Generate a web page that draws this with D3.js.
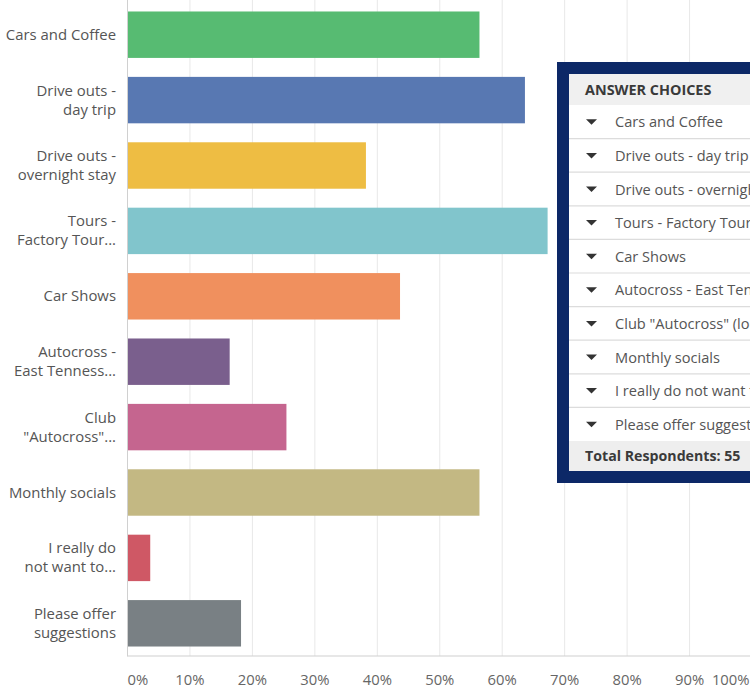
<!DOCTYPE html>
<html>
<head>
<meta charset="utf-8">
<script src="https://cdn.jsdelivr.net/npm/d3@7"></script>
<style>
  html, body { margin: 0; padding: 0; background: #fff; overflow: hidden; }
  svg { display: block; font-family: "Open Sans", "Noto Sans", sans-serif; }
</style>
</head>
<body>
<svg id="chart" width="750" height="689"></svg>
<script>
// ---- data ----
const categories = [
  "Cars and Coffee",
  "Drive outs - day trip",
  "Drive outs - overnight stay",
  "Tours - Factory Tours",
  "Car Shows",
  "Autocross - East Tennessee",
  "Club \"Autocross\"",
  "Monthly socials",
  "I really do not want to",
  "Please offer suggestions"
];
const axisLabels = [
  ["Cars and Coffee"],
  ["Drive outs -", "day trip"],
  ["Drive outs -", "overnight stay"],
  ["Tours -", "Factory Tour..."],
  ["Car Shows"],
  ["Autocross -", "East Tenness..."],
  ["Club", "\"Autocross\"..."],
  ["Monthly socials"],
  ["I really do", "not want to..."],
  ["Please offer", "suggestions"]
];
const legendLabels = [
  "Cars and Coffee",
  "Drive outs - day trip",
  "Drive outs - overnight stay",
  "Tours - Factory Tours",
  "Car Shows",
  "Autocross - East Tennessee",
  "Club \"Autocross\" (local)",
  "Monthly socials",
  "I really do not want to participate",
  "Please offer suggestions"
];
const values = [56.36, 63.64, 38.18, 67.27, 43.64, 16.36, 25.45, 56.36, 3.64, 18.18];
const colors = ["#57bb72", "#5878b2", "#eebd43", "#81c5cc", "#f0905e", "#7a5f8d", "#c5658f", "#c3b883", "#cf5865", "#798084"];
const ticks = [0, 10, 20, 30, 40, 50, 60, 70, 80, 90, 100];
const totalRespondents = 55;

// ---- layout ----
const svg = d3.select("#chart");
const x = d3.scaleLinear().domain([0, 100]).range([127.5, 752]);
const y = d3.scaleBand().domain(categories).range([2, 656]).paddingInner(0.29).paddingOuter(0.145);

// gridlines
svg.append("g").selectAll("line").data(ticks.slice(1)).join("line")
  .attr("x1", d => x(d)).attr("x2", d => x(d))
  .attr("y1", 0).attr("y2", 656)
  .attr("stroke", "#e8e8e8").attr("stroke-width", 1);

// bars
svg.append("g").selectAll("rect").data(categories).join("rect")
  .attr("x", x(0))
  .attr("y", d => y(d))
  .attr("width", (d, i) => x(values[i]) - x(0))
  .attr("height", y.bandwidth())
  .attr("fill", (d, i) => colors[i]);

// axis lines
svg.append("line").attr("x1", x(0)).attr("x2", x(0)).attr("y1", 0).attr("y2", 656.5)
  .attr("stroke", "#d0d0d0").attr("stroke-width", 1);
svg.append("line").attr("x1", x(0)).attr("x2", 752).attr("y1", 656).attr("y2", 656)
  .attr("stroke", "#d0d0d0").attr("stroke-width", 1.2);

// x tick labels
svg.append("g").selectAll("text").data(ticks).join("text")
  .attr("x", (d, i) => i === ticks.length - 1 ? 749.5 : x(d))
  .attr("y", 684.5)
  .attr("text-anchor", (d, i) => i === 0 ? "start" : (i === ticks.length - 1 ? "end" : "middle"))
  .attr("font-size", 14.8)
  .attr("fill", "#666")
  .text(d => d + "%");

// y labels
const yl = svg.append("g");
categories.forEach((c, i) => {
  const lines = axisLabels[i];
  const cy = y(c) + y.bandwidth() / 2;
  const lh = 19;
  lines.forEach((ln, j) => {
    yl.append("text")
      .attr("x", 116)
      .attr("y", cy + (j - (lines.length - 1) / 2) * lh + 5)
      .attr("text-anchor", "end")
      .attr("font-size", 14.9)
      .attr("fill", "#555")
      .text(ln);
  });
});

// ---- legend table ----
const bx = 557, by = 62, border = 12;
const headerH = 31, rowH = 33.6, totalH = 30;
const innerH = headerH + rowH * legendLabels.length + totalH;
const lg = svg.append("g");
lg.append("rect").attr("x", bx).attr("y", by).attr("width", 260).attr("height", innerH + 2 * border)
  .attr("fill", "#0c2867");
const ix = bx + border, iy = by + border;
lg.append("rect").attr("x", ix).attr("y", iy).attr("width", 250).attr("height", innerH).attr("fill", "#fff");
lg.append("rect").attr("x", ix).attr("y", iy).attr("width", 250).attr("height", headerH).attr("fill", "#f0f0f0");
lg.append("text").attr("x", ix + 16).attr("y", iy + headerH / 2 + 5)
  .attr("font-size", 14.4).attr("font-weight", "bold").attr("fill", "#3a3a3a").text("ANSWER CHOICES");
legendLabels.forEach((t, i) => {
  const ry = iy + headerH + i * rowH;
  if (i > 0) {
    lg.append("line").attr("x1", ix).attr("x2", ix + 250).attr("y1", ry).attr("y2", ry)
      .attr("stroke", "#dcdcdc").attr("stroke-width", 1.2);
  }
  const cy = ry + rowH / 2;
  lg.append("path")
    .attr("d", `M${ix + 17},${cy - 2.5} L${ix + 28},${cy - 2.5} L${ix + 22.5},${cy + 3} Z`)
    .attr("fill", "#333");
  lg.append("text").attr("x", ix + 46).attr("y", cy + 5.5)
    .attr("font-size", 14.6).attr("fill", "#555").text(t);
});
const ty = iy + headerH + rowH * legendLabels.length;
lg.append("rect").attr("x", ix).attr("y", ty).attr("width", 250).attr("height", totalH).attr("fill", "#eeeeee");
lg.append("text").attr("x", ix + 16).attr("y", ty + totalH / 2 + 5)
  .attr("font-size", 14.2).attr("font-weight", "bold").attr("fill", "#3a3a3a")
  .text("Total Respondents: " + totalRespondents);
</script>
</body>
</html>
